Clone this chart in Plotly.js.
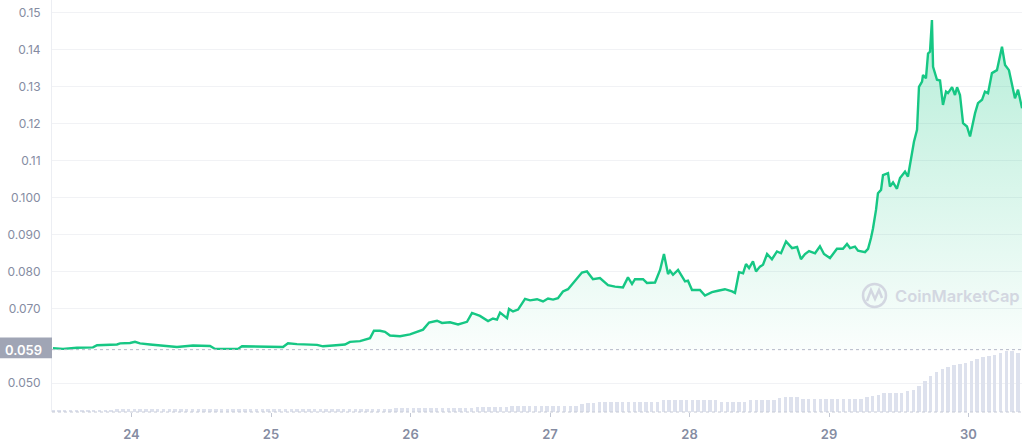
<!DOCTYPE html>
<html>
<head>
<meta charset="utf-8">
<script src="https://cdn.plot.ly/plotly-3.0.1.min.js"></script>
<style>
  html, body { margin: 0; padding: 0; background: #ffffff; }
  #chart { width: 1024px; height: 441px; }
</style>
</head>
<body>
<div id="chart"></div>
<script>
// ---- Data (time in fractional days of the month) ----
const priceTimes = [
  23.437, 23.509, 23.609, 23.724, 23.753, 23.896, 23.918, 23.989, 24.025, 24.061,
  24.133, 24.226, 24.326, 24.441, 24.563, 24.599, 24.763, 24.792, 24.943, 25.086,
  25.122, 25.186, 25.330, 25.373, 25.444, 25.530, 25.566, 25.638, 25.710, 25.738,
  25.781, 25.817, 25.853, 25.925, 25.996, 26.047, 26.090, 26.133, 26.190, 26.226,
  26.283, 26.341, 26.405, 26.441, 26.498, 26.556, 26.591, 26.620, 26.642, 26.692,
  26.706, 26.735, 26.771, 26.821, 26.857, 26.907, 26.950, 26.986, 27.022, 27.057,
  27.093, 27.129, 27.165, 27.229, 27.265, 27.308, 27.358, 27.416, 27.466, 27.487,
  27.523, 27.559, 27.588, 27.609, 27.667, 27.695, 27.753, 27.789, 27.817, 27.846,
  27.860, 27.882, 27.918, 27.968, 27.989, 28.018, 28.075, 28.111, 28.161, 28.204,
  28.254, 28.305, 28.326, 28.355, 28.384, 28.405, 28.427, 28.455, 28.477, 28.505,
  28.527, 28.556, 28.591, 28.627, 28.656, 28.692, 28.735, 28.771, 28.799, 28.828,
  28.857, 28.900, 28.935, 28.964, 29.007, 29.057, 29.100, 29.129, 29.151, 29.186,
  29.208, 29.258, 29.280, 29.301, 29.315, 29.337, 29.351, 29.373, 29.387, 29.423,
  29.437, 29.459, 29.487, 29.509, 29.545, 29.566, 29.595, 29.609, 29.631, 29.645,
  29.667, 29.674, 29.695, 29.710, 29.724, 29.738, 29.746, 29.774, 29.796, 29.817,
  29.839, 29.853, 29.882, 29.903, 29.918, 29.939, 29.961, 29.989, 30.011, 30.047,
  30.068, 30.097, 30.118, 30.140, 30.168, 30.204, 30.240, 30.262, 30.290, 30.319,
  30.333, 30.355, 30.384
];
const prices = [
  0.0594, 0.0592, 0.0595, 0.0596, 0.0602, 0.0604, 0.0607, 0.0608, 0.0611, 0.0607,
  0.0604, 0.0600, 0.0597, 0.0601, 0.0600, 0.0592, 0.0592, 0.0599, 0.0598, 0.0597,
  0.0607, 0.0605, 0.0603, 0.0599, 0.0601, 0.0604, 0.0611, 0.0613, 0.0621, 0.0641,
  0.0641, 0.0638, 0.0628, 0.0626, 0.0631, 0.0638, 0.0644, 0.0663, 0.0668, 0.0662,
  0.0664, 0.0658, 0.0665, 0.0689, 0.0681, 0.0667, 0.0674, 0.0671, 0.0690, 0.0675,
  0.0700, 0.0693, 0.0698, 0.0727, 0.0723, 0.0726, 0.0720, 0.0728, 0.0725, 0.0729,
  0.0747, 0.0753, 0.0770, 0.0798, 0.0801, 0.0780, 0.0783, 0.0764, 0.0760, 0.0760,
  0.0758, 0.0785, 0.0767, 0.0780, 0.0780, 0.0770, 0.0771, 0.0805, 0.0848, 0.0794,
  0.0803, 0.0792, 0.0805, 0.0774, 0.0776, 0.0751, 0.0751, 0.0736, 0.0745, 0.0749,
  0.0753, 0.0747, 0.0743, 0.0799, 0.0796, 0.0821, 0.0810, 0.0828, 0.0801, 0.0814,
  0.0819, 0.0848, 0.0834, 0.0855, 0.0850, 0.0882, 0.0864, 0.0867, 0.0834, 0.0848,
  0.0856, 0.0850, 0.0869, 0.0848, 0.0837, 0.0862, 0.0862, 0.0875, 0.0864, 0.0868,
  0.0857, 0.0853, 0.0862, 0.0891, 0.0916, 0.0967, 0.1012, 0.1021, 0.1061, 0.1066,
  0.1030, 0.1041, 0.1024, 0.1053, 0.1070, 0.1057, 0.1124, 0.1151, 0.1183, 0.1299,
  0.1313, 0.1331, 0.1322, 0.1389, 0.1394, 0.1479, 0.1353, 0.1318, 0.1316, 0.1250,
  0.1286, 0.1282, 0.1298, 0.1277, 0.1298, 0.1277, 0.1201, 0.1192, 0.1165, 0.1228,
  0.1255, 0.1264, 0.1286, 0.1282, 0.1336, 0.1344, 0.1407, 0.1358, 0.1344, 0.1295,
  0.1268, 0.1291, 0.1241
];
const startPrice = 0.059;

// Hourly volume bars (millions USD), first bar at day 23.4375
const volumeStart = 23.4375;
const volumes = [
  4.0, 4.0, 4.0, 4.0, 4.0, 4.0, 4.0, 4.0, 4.0,
  6.0, 6.0, 6.5, 6.5, 6.5, 6.5,
  6.5, 6.5, 6.5, 6.5, 6.5, 6.5, 6.5, 6.5, 6.5, 6.5, 6.5, 6.5, 6.5, 6.5, 6.5, 6.5,
  7.0, 7.0, 7.0, 7.0, 7.0, 7.0, 7.0, 7.0, 7.0, 7.0, 7.0, 7.0, 7.0, 7.0, 7.0,
  7.5, 7.5, 7.5, 7.5, 7.5, 7.5, 7.5, 7.5, 7.5, 7.5,
  8.3, 8.5, 8.7, 8.9, 9.0, 9.2, 9.3, 9.5, 9.6, 9.8,
  10.0, 10.2, 10.4, 10.6, 10.8, 11.0, 11.2,
  11.5, 12.0, 12.5, 12.8, 13.2, 13.5,
  14.0, 14.3, 14.6, 14.8, 15.0,
  15.8, 15.8, 15.8, 15.8, 15.8, 15.8, 15.8,
  18.8, 21.3, 22.5,
  24.0, 24.0, 24.0, 24.0, 24.0, 24.0, 24.0, 24.0, 24.0, 24.0, 24.0,
  29.0, 29.0, 29.0, 29.0, 29.0, 29.0, 29.0, 29.0, 29.0, 29.0,
  25.8, 25.8, 25.8, 25.8, 25.8,
  30.8, 30.8, 30.8, 30.8, 30.8,
  35.0, 37.5, 37.5, 37.5,
  33.3, 33.3, 33.3, 33.3, 33.3, 33.3, 33.3, 33.3, 33.3, 33.3, 33.3,
  37.5, 40.0, 43.3,
  47.5, 47.5, 47.5, 48.8,
  52.5, 56.3, 65.0, 77.5, 90.0, 100.0, 107.5, 113.8, 117.5, 120.8,
  123.8, 128.8, 132.5, 137.5, 140.0, 143.8, 148.8, 151.5, 151.5, 147.5
];

const xTickVals = [24, 25, 26, 27, 28, 29, 30];
const xTickText = ['24', '25', '26', '27', '28', '29', '30'];
const yTickVals = [0.05, 0.07, 0.08, 0.09, 0.10, 0.11, 0.12, 0.13, 0.14, 0.15];
const yTickText = ['0.050', '0.070', '0.080', '0.090', '0.100', '0.11', '0.12', '0.13', '0.14', '0.15'];

// ---- Build ----
const volumeTimes = volumes.map((_, i) => volumeStart + i / 24);

const green = '#16c784';
const labelColor = '#858ca2';

const traces = [
  {
    type: 'bar', x: volumeTimes, y: volumes, yaxis: 'y2',
    width: 0.6 / 24,
    marker: { color: '#dde1ed', line: { width: 0 } },
    hoverinfo: 'skip'
  },
  {
    type: 'scatter', mode: 'lines',
    x: [priceTimes[0], priceTimes[priceTimes.length - 1]],
    y: [startPrice, startPrice],
    line: { width: 0, color: 'rgba(0,0,0,0)' },
    hoverinfo: 'skip'
  },
  {
    type: 'scatter', mode: 'lines', x: priceTimes, y: prices,
    line: { color: green, width: 2.4, shape: 'linear' },
    fill: 'tonexty',
    fillgradient: {
      type: 'vertical', start: startPrice, stop: 0.15,
      colorscale: [[0, 'rgba(22,199,132,0.02)'], [1, 'rgba(22,199,132,0.32)']]
    }
  }
];

const px2paperX = (px) => (px - 52) / 970;
const px2paperY = (py) => 1 - py / 412;

const layout = {
  width: 1024, height: 441,
  margin: { l: 52, r: 2, t: 0, b: 29, pad: 0 },
  paper_bgcolor: '#ffffff', plot_bgcolor: '#ffffff',
  showlegend: false,
  bargap: 0,
  xaxis: {
    range: [23.4301, 30.3835],
    tickvals: xTickVals, ticktext: xTickText,
    ticks: 'outside', ticklen: 4, tickcolor: '#c3c8d4', tickwidth: 1,
    ticklabelstandoff: 6,
    showgrid: false, zeroline: false, showline: false,
    tickfont: { family: 'Inter, Roboto, sans-serif', size: 13, color: labelColor, weight: 600 },
    fixedrange: true
  },
  yaxis: {
    range: [0.04218, 0.15332],
    tickvals: yTickVals, ticktext: yTickText,
    showgrid: true, gridcolor: '#f1f2f5', gridwidth: 1,
    showline: true, linecolor: '#eceef3', linewidth: 1,
    zeroline: false, ticks: '',
    ticklabelstandoff: 8,
    tickfont: { family: 'Inter, Roboto, sans-serif', size: 12, color: labelColor },
    fixedrange: true
  },
  yaxis2: {
    overlaying: 'y', range: [0, 1031], visible: false, fixedrange: true
  },
  shapes: [
    { type: 'line', xref: 'paper', yref: 'y', x0: 0, x1: 1, y0: startPrice, y1: startPrice,
      line: { color: '#b4b9c7', width: 1, dash: 'dot' } },
    { type: 'line', xref: 'paper', yref: 'paper', x0: 0, x1: 1, y0: 0, y1: 0,
      line: { color: '#c6cad6', width: 1, dash: 'dot' } },
    { type: 'rect', xref: 'paper', yref: 'y', x0: px2paperX(0), x1: 0, y0: 0.05667, y1: 0.06229,
      fillcolor: '#a0a5b5', line: { width: 0 }, layer: 'above' },
    { type: 'circle', xref: 'paper', yref: 'paper',
      x0: px2paperX(863), x1: px2paperX(886), y0: px2paperY(307), y1: px2paperY(284),
      line: { color: '#d3d7e1', width: 2.5 }, fillcolor: 'rgba(0,0,0,0)' },
    { type: 'path', xref: 'paper', yref: 'paper',
      path: 'M ' + px2paperX(867) + ' ' + px2paperY(301) +
            ' L ' + px2paperX(871) + ' ' + px2paperY(290) +
            ' L ' + px2paperX(875) + ' ' + px2paperY(299) +
            ' L ' + px2paperX(879) + ' ' + px2paperY(290) +
            ' L ' + px2paperX(882) + ' ' + px2paperY(298),
      line: { color: '#d3d7e1', width: 2.5 } }
  ],
  annotations: [
    { xref: 'paper', yref: 'y', x: px2paperX(44), y: startPrice, xanchor: 'right', yanchor: 'middle',
      text: '0.059', showarrow: false,
      font: { family: 'Inter, Roboto, sans-serif', size: 13, color: '#ffffff', weight: 600 } },
    { xref: 'paper', yref: 'paper', x: px2paperX(893), y: px2paperY(296), xanchor: 'left', yanchor: 'middle',
      text: 'CoinMarketCap', showarrow: false,
      font: { family: 'Inter, Roboto, sans-serif', size: 16.5, color: '#d3d7e1', weight: 600 } }
  ]
};

Plotly.newPlot('chart', traces, layout, { displayModeBar: false, staticPlot: true });
</script>
</body>
</html>
